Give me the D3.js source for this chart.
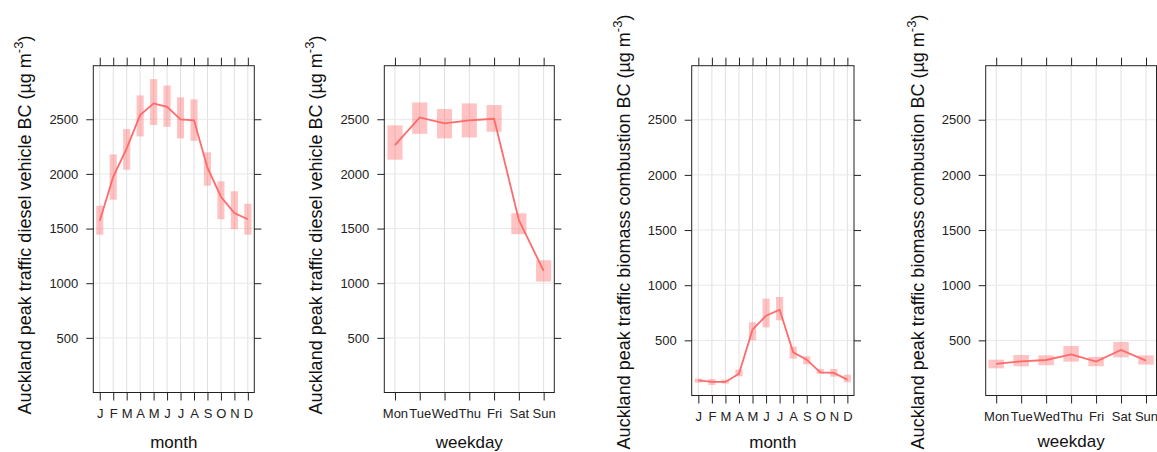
<!DOCTYPE html>
<html>
<head>
<meta charset="utf-8">
<script src="https://cdn.jsdelivr.net/npm/d3@7"></script>
<style>
  body { margin: 0; background: #fff; }
  svg { font-family: "Liberation Sans", Arial, sans-serif; }
</style>
</head>
<body>
<div id="chart"></div>
<script>
// categories
const months = ['J', 'F', 'M', 'A', 'M', 'J', 'J', 'A', 'S', 'O', 'N', 'D'];
const weekdays = ['Mon', 'Tue', 'Wed', 'Thu', 'Fri', 'Sat', 'Sun'];
const yTicks = [500, 1000, 1500, 2000, 2500];

// diesel vehicle BC by month
const dieselMonthMean  = [1572, 1974, 2234, 2538, 2645, 2614, 2499, 2490, 2057, 1791, 1642, 1585];
const dieselMonthLower = [1444, 1764, 2038, 2343, 2447, 2431, 2325, 2303, 1892, 1585, 1494, 1444];
const dieselMonthUpper = [1709, 2179, 2410, 2718, 2867, 2809, 2700, 2682, 2197, 1932, 1841, 1727];

// diesel vehicle BC by weekday
const dieselWeekMean  = [2264, 2517, 2462, 2490, 2504, 1578, 1112];
const dieselWeekLower = [2130, 2367, 2325, 2334, 2386, 1448, 1015];
const dieselWeekUpper = [2444, 2654, 2593, 2645, 2630, 1640, 1210];

// biomass combustion BC by month
const biomassMonthMean  = [138, 123, 123, 198, 597, 724, 778, 391, 325, 210, 205, 144];
const biomassMonthLower = [117, 96, 108, 174, 500, 618, 681, 334, 283, 196, 171, 120];
const biomassMonthUpper = [153, 150, 144, 235, 663, 878, 893, 443, 355, 241, 241, 189];

// biomass combustion BC by weekday
const biomassWeekMean  = [286, 310, 322, 373, 307, 413, 316];
const biomassWeekLower = [246, 265, 274, 307, 265, 346, 280];
const biomassWeekUpper = [325, 367, 364, 449, 350, 485, 364];

const W = 1157, H = 452;
const lineColor = '#ff6a6a';

const panels = [
  {cats: months, mean: dieselMonthMean, lo: dieselMonthLower, hi: dieselMonthUpper,
   left: 93.3, right: 254.3, bottom: 392.5, pad: 0.48, boxFrac: 0.53, labY: 225, xlabY: 447.5,
   ylab: 'Auckland peak traffic diesel vehicle BC (µg m', xlab: 'month'},
  {cats: weekdays, mean: dieselWeekMean, lo: dieselWeekLower, hi: dieselWeekUpper,
   left: 384.3, right: 554.3, bottom: 392.5, pad: 0.43, boxFrac: 0.61, labY: 225, xlabY: 447.5,
   ylab: 'Auckland peak traffic diesel vehicle BC (µg m', xlab: 'weekday'},
  {cats: months, mean: biomassMonthMean, lo: biomassMonthLower, hi: biomassMonthUpper,
   left: 691.7, right: 854, bottom: 395.5, pad: 0.49, boxFrac: 0.53, labY: 232, xlabY: 447.5,
   ylab: 'Auckland peak traffic biomass combustion BC (µg m', xlab: 'month'},
  {cats: weekdays, mean: biomassWeekMean, lo: biomassWeekLower, hi: biomassWeekUpper,
   left: 985.7, right: 1156.5, bottom: 395.5, pad: 0.42, boxFrac: 0.62, labY: 232, xlabY: 446.5,
   ylab: 'Auckland peak traffic biomass combustion BC (µg m', xlab: 'weekday'}
];
const plotTop = 65.7;

const svg = d3.select('#chart').append('svg')
  .attr('width', W)
  .attr('height', H);

panels.forEach(p => {
  const idx = d3.range(p.cats.length);
  const x = d3.scalePoint()
    .domain(idx)
    .range([p.left, p.right])
    .padding(p.pad);
  const y = d3.scaleLinear()
    .domain([0, 2990])
    .range([p.bottom, plotTop]);

  const g = svg.append('g');

  // grid
  g.selectAll('.vgrid').data(idx).enter().append('line')
    .attr('x1', d => x(d)).attr('x2', d => x(d))
    .attr('y1', plotTop).attr('y2', p.bottom)
    .attr('stroke', '#e0e0e0').attr('stroke-width', 1);
  g.selectAll('.hgrid').data(yTicks).enter().append('line')
    .attr('x1', p.left).attr('x2', p.right)
    .attr('y1', d => y(d)).attr('y2', d => y(d))
    .attr('stroke', '#e8e8e8').attr('stroke-width', 1);

  // confidence boxes
  const bw = x.step() * p.boxFrac;
  g.selectAll('rect.ci').data(idx).enter().append('rect')
    .attr('class', 'ci')
    .attr('x', d => x(d) - bw / 2)
    .attr('width', bw)
    .attr('y', d => y(p.hi[d]))
    .attr('height', d => y(p.lo[d]) - y(p.hi[d]))
    .attr('fill', '#ff6a6a')
    .attr('fill-opacity', 0.4);

  // mean line
  const line = d3.line().x(d => x(d)).y(d => y(p.mean[d]));
  g.append('path')
    .datum(idx)
    .attr('d', line)
    .attr('fill', 'none')
    .attr('stroke', lineColor)
    .attr('stroke-width', 1.8);

  // box
  g.append('rect')
    .attr('x', p.left).attr('y', plotTop)
    .attr('width', p.right - p.left).attr('height', p.bottom - plotTop)
    .attr('fill', 'none').attr('stroke', '#222').attr('stroke-width', 1);

  // axes
  const yLeft = d3.axisLeft(y).tickValues(yTicks).tickSize(7).tickPadding(8).tickFormat(d3.format('d'));
  const yRight = d3.axisRight(y).tickValues(yTicks).tickSize(7).tickFormat('');
  const xBottom = d3.axisBottom(x).tickSize(8).tickPadding(8).tickFormat(d => p.cats[d]);
  const xTop = d3.axisTop(x).tickSize(8).tickFormat('');

  [[yLeft, `translate(${p.left},0)`], [yRight, `translate(${p.right},0)`],
   [xBottom, `translate(0,${p.bottom})`], [xTop, `translate(0,${plotTop})`]].forEach(([ax, tr]) => {
    const a = g.append('g').attr('transform', tr).call(ax);
    a.select('.domain').remove();
    a.selectAll('line').attr('stroke', '#222');
    a.selectAll('text').attr('fill', '#222').style('font-size', '13px');
  });

  // labels
  g.append('text')
    .attr('x', (p.left + p.right) / 2)
    .attr('y', p.xlabY)
    .attr('text-anchor', 'middle')
    .style('font-size', '17px')
    .attr('fill', '#111')
    .text(p.xlab);

  const yl = g.append('text')
    .attr('transform', `translate(${p.left - 62},${p.labY}) rotate(-90)`)
    .attr('text-anchor', 'middle')
    .style('font-size', '18px')
    .attr('fill', '#111');
  yl.append('tspan').text(p.ylab);
  yl.append('tspan').attr('dy', -8).style('font-size', '13px').text('-3');
  yl.append('tspan').attr('dy', 8).text(')');
});
</script>
</body>
</html>
